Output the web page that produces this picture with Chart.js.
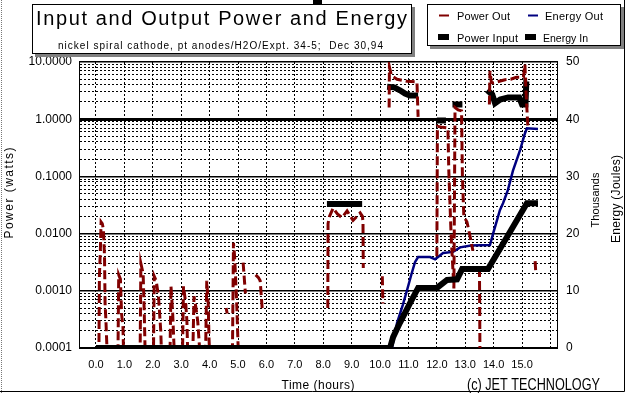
<!DOCTYPE html>
<html>
<head>
<meta charset="utf-8">
<script src="https://cdn.jsdelivr.net/npm/chart.js@4.4.1/dist/chart.umd.min.js"></script>
<style>
  html, body { margin: 0; padding: 0; background: #fff; }
  canvas { display: block; }
</style>
</head>
<body>
<canvas id="chart" width="630" height="393"></canvas>
<script>
// Power Out (watts) - dark red dashed trace, null = break in the trace
const powerOutHours = [0.00, 0.10, 0.12, 0.15, 0.18, 0.22, 0.26, 0.30, 0.32, 0.35, 0.38, 0.42,
    0.77, 0.80, 0.86, 0.90, 0.95, 0.98, 1.55, 1.58, 1.66, 1.70, 1.74,
    2.02, 2.05, 2.12, 2.20, 2.28, 2.32, 2.60, 2.64, 2.70, 2.74, 2.78,
    3.04, 3.08, 3.16, 3.20, 3.24, 3.40, 3.45, 3.52, 3.58, 3.64, 3.68,
    3.85, 3.90, 3.95, 3.98, 4.02, 4.50, 4.58, 4.62, 4.66,
    4.80, 4.84, 4.88, 4.92, 4.96, 5.00, 5.04, 5.10, 5.18, 5.26, 5.40,
    5.62, 5.72, 5.78, 5.85, 6.00,
    8.16, 8.17, 8.22, 8.35, 8.50, 8.66, 8.84, 9.05, 9.30, 9.38, 9.40, 9.41, 9.70,
    10.08, 10.10, 10.20,
    10.32, 10.33, 10.40, 10.60, 10.95, 11.30, 11.34, 11.60,
    12.00, 12.02, 12.20, 12.39, 12.42, 12.50, 12.60, 12.64, 12.75, 12.87, 12.90, 12.95,
    13.06, 13.15, 13.27, 13.40, 13.50, 13.52, 13.70,
    13.85, 13.87, 13.92, 14.00, 14.20, 14.40, 14.60, 14.80, 15.05, 15.10, 15.14, 15.20, 15.22, 15.35,
    15.46, 15.48];
const powerOutWatts = [0.00005, 0.00005, 0.0018, 0.0045, 0.016, 0.015, 0.012, 0.004, 0.0006, 0.0003, 0.00012, 0.00005,
    0.00005, 0.0019, 0.0016, 0.0004, 0.00023, 0.00005, 0.00005, 0.003, 0.002, 0.0004, 0.00005,
    0.00005, 0.0018, 0.0015, 0.0008, 0.0002, 0.00005, 0.00005, 0.0012, 0.0004, 0.00013, 0.00005,
    0.00005, 0.0012, 0.0006, 0.0003, 0.00005, 0.00005, 0.0008, 0.0005, 0.0003, 0.00011, 0.00005,
    0.00005, 0.0015, 0.0006, 0.00014, 0.00005, null, 0.0005, 0.0004, null,
    0.00005, 0.0069, 0.004, 0.0015, 0.0005, 0.00012, 0.00005, null, 0.0031, 0.0009, null,
    0.0019, 0.0017, 0.0015, 0.0005, null,
    0.0005, 0.015, 0.02, 0.028, 0.022, 0.019, 0.025, 0.017, 0.023, 0.02, 0.016, 0.0025, null,
    0.0018, 0.0006, null,
    1.6, 8.2, 5.8, 5.0, 4.6, 4.5, 1.1, null,
    0.004, 0.75, 0.72, 0.7, 0.13, 0.01, 0.0011, 1.6, 1.45, 1.4, 0.1, 0.02,
    0.016, 0.01, 0.005, null, 0.0025, 0.00005, null,
    1.8, 7.0, 4.4, 4.3, 4.6, 4.9, 5.0, 5.4, 5.4, 9.0, 3.0, 0.8, 0.7, null,
    0.0033, 0.0022];

// Power Input (watts)
const powerInHours = [8.13, 9.37, 9.80,
    10.25, 10.50, 10.70, 10.88, 11.05, 11.34, 11.60,
    12.00, 12.32, 12.45,
    12.55, 12.90, 13.20,
    13.77, 13.95, 14.05, 14.23, 14.51, 14.90, 15.00, 15.12, 15.15, 15.18];
const powerInWatts = [0.033, 0.033, null,
    3.7, 3.6, 3.2, 2.8, 2.6, 2.6, null,
    0.95, 0.95, null,
    1.8, 1.8, null,
    3.2, 2.7, 1.9, 2.2, 2.4, 2.4, 1.8, 1.8, 4.6, 4.6];

// Energy (thousands of joules)
const energyOutHours = [0, 10.42, 10.60, 10.80, 10.95, 11.10, 11.23, 11.34, 11.76, 11.94, 12.22, 12.57,
    12.82, 13.20, 13.87, 13.98, 14.22, 14.33, 14.50, 14.68, 14.93, 15.10, 15.17, 15.56];
const energyOutKJ = [0, 0, 4.4, 7.5, 10.1, 12.8, 15.0, 15.9, 15.9, 15.5, 16.6, 16.8,
    17.6, 17.9, 18.0, 20.0, 24.1, 25.3, 27.6, 31.0, 34.6, 37.5, 38.4, 38.3];

const energyInHours = [0, 10.35, 10.46, 10.70, 11.06, 11.34, 12.00, 12.36, 12.71, 12.89, 13.80, 14.47, 15.17, 15.56];
const energyInKJ = [0, 0, 1.9, 4.4, 7.9, 10.5, 10.5, 11.9, 12.0, 13.8, 13.8, 19.4, 25.3, 25.3];

// axis ticks
const hourTicks = [0, 1, 2, 3, 4, 5, 6, 7, 8, 9, 10, 11, 12, 13, 14, 15, 16];
const hourLabels = ['0.0', '1.0', '2.0', '3.0', '4.0', '5.0', '6.0', '7.0', '8.0', '9.0',
    '10.0', '11.0', '12.0', '13.0', '14.0', '15.0', ''];
const powerTicks = [0.0001, 0.001, 0.01, 0.1, 1, 10];
const powerLabels = ['0.0001', '0.0010', '0.0100', '0.1000', '1.0000', '10.0000'];
const energyTicks = [0, 10, 20, 30, 40, 50];

const pts = (xs, ys) => xs.map((x, i) => ({ x: x, y: ys[i] }));

// minor log gridlines 2..9 in every decade
const logTicks = [];
powerTicks.forEach((d, i) => {
    logTicks.push({ value: d, major: true });
    if (i < powerTicks.length - 1) {
        for (let m = 2; m <= 9; m++) logTicks.push({ value: d * m, major: false });
    }
});

const FONT = "'Liberation Sans', Arial, sans-serif";

function spacedText(c, txt, x, y, w, font, align) {
    c.font = font;
    c.letterSpacing = '0px';
    const m = c.measureText(txt).width;
    c.textAlign = 'left';
    let x0 = align === 'center' ? x - w / 2 : x;
    if (m > w) {
        c.save();
        c.translate(x0, y);
        c.scale(w / m, 1);
        c.fillText(txt, 0, 0);
        c.restore();
    } else {
        c.letterSpacing = ((w - m) / (txt.length - 1)) + 'px';
        c.fillText(txt, x0, y);
        c.letterSpacing = '0px';
    }
}

function box(c, x, y, w, h) {
    c.fillStyle = '#808080';
    c.fillRect(x + 3, y + 3, w, h);
    c.fillStyle = '#fff';
    c.fillRect(x, y, w, h);
    c.strokeStyle = '#000';
    c.lineWidth = 1;
    c.strokeRect(x + 0.5, y + 0.5, w - 1, h - 1);
}

const decor = {
    id: 'decor',
    beforeDraw(chart) {
        const c = chart.ctx;
        c.save();
        c.fillStyle = '#fff';
        c.fillRect(0, 0, chart.width, chart.height);
        c.restore();
    },
    afterDatasetsDraw(chart) {
        const c = chart.ctx, a = chart.chartArea;
        c.save();
        c.strokeStyle = '#000';
        c.lineWidth = 1;
        c.strokeRect(a.left - 0.5, a.top - 0.5, a.right - a.left + 1, a.bottom - a.top + 1);
        c.restore();
    },
    afterDraw(chart) {
        const c = chart.ctx;
        c.save();
        c.textBaseline = 'alphabetic';

        // outer frame
        c.strokeStyle = '#000';
        c.lineWidth = 1;
        c.beginPath();
        c.moveTo(624.5, 0); c.lineTo(624.5, 391.5); c.lineTo(0, 391.5);
        c.stroke();
        c.setLineDash([1, 1]);
        c.strokeStyle = '#777';
        c.beginPath(); c.moveTo(1.5, 0); c.lineTo(1.5, 393); c.stroke();
        c.setLineDash([]);
        c.fillStyle = '#000';
        c.fillRect(313, 0, 9, 5);

        // title box
        box(c, 32, 4, 380, 50);
        c.fillStyle = '#000';
        spacedText(c, 'Input and Output Power and Energy', 36, 25, 371, '20px ' + FONT);
        spacedText(c, 'nickel spiral cathode, pt anodes/H2O/Expt. 34-5;  Dec 30,94', 58, 48.5, 325, '10px ' + FONT);

        // legend box
        box(c, 427, 4, 194, 42);
        c.lineWidth = 2;
        c.strokeStyle = '#800000';
        c.beginPath(); c.moveTo(439, 15.5); c.lineTo(449, 15.5); c.stroke();
        c.strokeStyle = '#000080';
        c.beginPath(); c.moveTo(528, 15.5); c.lineTo(538, 15.5); c.stroke();
        c.fillStyle = '#000';
        c.fillRect(438, 34, 11, 6);
        c.fillRect(525, 34, 11, 6);
        spacedText(c, 'Power Out', 457, 19.5, 53, '11px ' + FONT);
        spacedText(c, 'Energy Out', 545, 19.5, 58, '11px ' + FONT);
        spacedText(c, 'Power Input', 457, 41.5, 61, '11px ' + FONT);
        spacedText(c, 'Energy In', 543, 41.5, 45, '11px ' + FONT);

        // axis titles
        const vText = (txt, cx, cy, w, font) => {
            c.save();
            c.translate(cx, cy);
            c.rotate(-Math.PI / 2);
            c.textBaseline = 'middle';
            spacedText(c, txt, 0, 0, w, font, 'center');
            c.restore();
        };
        vText('Power (watts)', 10, 193, 91, '12px ' + FONT);
        vText('Thousands', 596, 200, 55, '11px ' + FONT);
        vText('Energy (Joules)', 617, 199, 88, '12px ' + FONT);
        spacedText(c, 'Time (hours)', 318, 389, 73, '12px ' + FONT, 'center');
        c.font = "17px 'Liberation Sans Narrow', 'Liberation Sans', Arial, sans-serif";
        spacedText(c, '(c) JET TECHNOLOGY', 467, 389.5, 133, "17px 'Liberation Sans Narrow', 'Liberation Sans', Arial, sans-serif");
        c.restore();
    }
};

const ctx = document.getElementById('chart').getContext('2d');
new Chart(ctx, {
    type: 'line',
    data: {
        datasets: [{
            label: 'Energy In',
            data: pts(energyInHours, energyInKJ),
            yAxisID: 'y2',
            borderColor: '#000000',
            borderWidth: 6
        }, {
            label: 'Power Out',
            data: pts(powerOutHours, powerOutWatts),
            yAxisID: 'y',
            borderColor: '#800000',
            borderWidth: 3,
            borderDash: [9, 4],
            clip: 1
        }, {
            label: 'Power Input',
            data: pts(powerInHours, powerInWatts),
            yAxisID: 'y',
            borderColor: '#000000',
            borderWidth: 6
        }, {
            label: 'Energy Out',
            data: pts(energyOutHours, energyOutKJ),
            yAxisID: 'y2',
            borderColor: '#000080',
            borderWidth: 2.5
        }]
    },
    options: {
        responsive: false,
        devicePixelRatio: 1,
        animation: false,
        spanGaps: false,
        elements: {
            point: { radius: 0, hoverRadius: 0 },
            line: { tension: 0, borderCapStyle: 'butt', borderJoinStyle: 'miter', fill: false }
        },
        layout: { padding: { top: 62, left: 0, right: 0, bottom: 0 } },
        plugins: { legend: { display: false }, tooltip: { enabled: false }, title: { display: false } },
        scales: {
            x: {
                type: 'linear',
                min: -0.563,
                max: 16.23,
                afterBuildTicks: s => { s.ticks = hourTicks.map(v => ({ value: v })); },
                afterFit: s => { s.height = 45; },
                ticks: {
                    autoSkip: false,
                    maxRotation: 0,
                    padding: 10,
                    color: '#000',
                    font: { family: FONT, size: 11 },
                    callback: (v, i) => hourLabels[i]
                },
                grid: { color: '#000', lineWidth: 1, drawTicks: false },
                border: { display: false, dash: [2, 2] }
            },
            y: {
                type: 'logarithmic',
                position: 'left',
                min: 0.0001,
                max: 10,
                afterBuildTicks: s => { s.ticks = logTicks.map(t => ({ value: t.value, major: t.major })); },
                afterFit: s => { s.width = 80; },
                ticks: {
                    autoSkip: false,
                    padding: 8,
                    color: '#000',
                    font: { family: FONT, size: 12 },
                    callback: (v, i) => {
                        const k = powerTicks.findIndex(p => Math.abs(p - v) < p * 1e-6);
                        return k >= 0 ? powerLabels[k] : '';
                    }
                },
                grid: {
                    color: '#000',
                    drawTicks: false,
                    lineWidth: c => {
                        const t = logTicks[c.index];
                        if (!t || !t.major) return 1;
                        return t.value === 1 ? 3 : 1.5;
                    }
                },
                border: {
                    display: false,
                    dash: c => {
                        const t = logTicks[c.index];
                        return t && t.major ? [] : [2, 2];
                    }
                }
            },
            y2: {
                type: 'linear',
                position: 'right',
                min: 0,
                max: 50,
                afterBuildTicks: s => { s.ticks = energyTicks.map(v => ({ value: v })); },
                afterFit: s => { s.width = 73; },
                ticks: {
                    autoSkip: false,
                    padding: 9,
                    color: '#000',
                    font: { family: FONT, size: 12 },
                    callback: v => String(v)
                },
                grid: { drawOnChartArea: false, drawTicks: false },
                border: { display: false }
            }
        }
    },
    plugins: [decor]
});
</script>
</body>
</html>
